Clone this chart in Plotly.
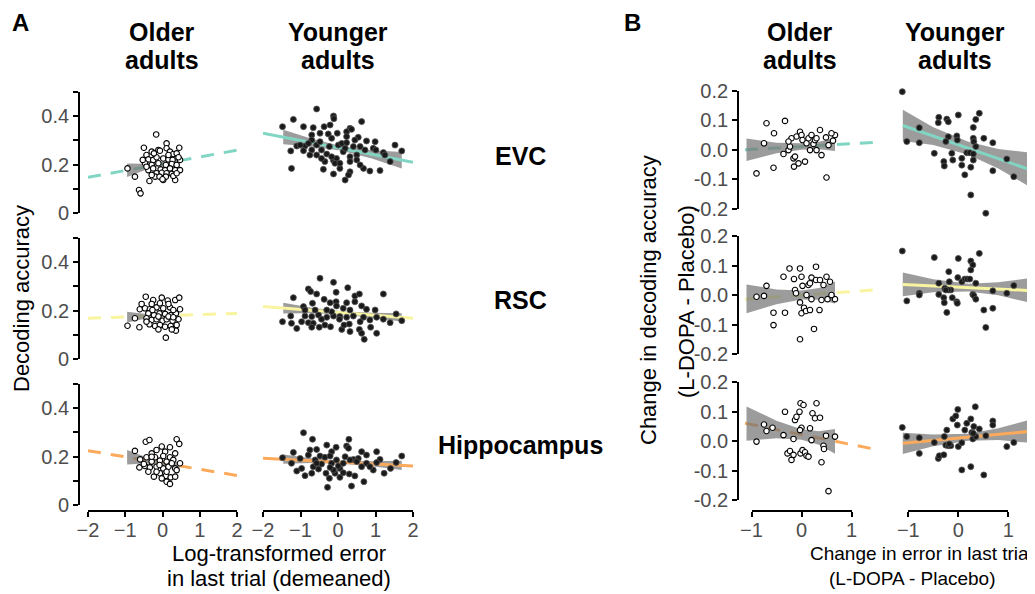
import plotly.graph_objects as go

W, H = 1035, 594
OFF = 8  # the page body adds an 8px margin around the figure


def fx(px):
    return (px - OFF) / W


def fy(py):
    return 1 - (py - OFF) / H

# ---------------- DATA ----------------
rows = ["EVC", "RSC", "Hippocampus"]
colors = {"EVC": "#80D6C3", "RSC": "#F8F4A0", "Hippocampus": "#FBAA5C"}

# ---- Panel A : older adults ----
A_EVC_old_x = [-0.17, -0.50, -0.94, -0.74, -0.63, -0.59, -0.35, 0.45, 0.11, 0.34, 0.02, -0.29, -0.11, -0.07, 0.11, 0.20,
               0.29, 0.38, -0.43, -0.38, -0.25, -0.16, 0.02, 0.16, 0.27, 0.47, -0.47, -0.29, -0.11, 0.09, 0.25, 0.38,
               -0.38, -0.25, -0.05, 0.07, 0.20, 0.34, 0.47, -0.16, -0.02, 0.11, 0.25, -0.20, -0.08, 0.09, 0.29, 0.38,
               0.00, -0.29, -0.43, 0.16, -0.23, 0.43, -0.53]
A_EVC_old_y = [0.324, 0.269, 0.184, 0.150, 0.095, 0.081, 0.132, 0.269, 0.287, 0.136, 0.136, 0.253, 0.260, 0.257, 0.267, 0.253,
               0.243, 0.246, 0.239, 0.221, 0.219, 0.230, 0.225, 0.221, 0.219, 0.219, 0.205, 0.198, 0.205, 0.198, 0.202, 0.198,
               0.177, 0.184, 0.180, 0.177, 0.184, 0.177, 0.177, 0.164, 0.166, 0.164, 0.161, 0.150, 0.150, 0.150, 0.153, 0.164,
               0.139, 0.157, 0.191, 0.239, 0.246, 0.230, 0.219]
A_RSC_old_x = [-0.94, -0.62, -0.45, -0.25, -0.02, 0.14, 0.34, 0.45, 0.09, 0.36, -0.61, -0.47, -0.34, -0.16, 0.02, 0.20,
               0.47, -0.38, -0.23, -0.08, 0.07, 0.22, 0.36, -0.43, -0.29, -0.16, 0.00, 0.11, 0.27, 0.43, -0.35, -0.20,
               -0.07, 0.07, 0.22, 0.38, -0.11, 0.25, -0.74, -0.56, -0.29, -0.07, 0.16, 0.29, -0.27, -0.11, 0.16, -0.43, 0.29]
A_RSC_old_y = [0.137, 0.131, 0.257, 0.243, 0.253, 0.241, 0.243, 0.253, 0.088, 0.117, 0.205, 0.209, 0.205, 0.213, 0.209, 0.213,
               0.205, 0.188, 0.181, 0.188, 0.186, 0.181, 0.188, 0.168, 0.161, 0.164, 0.158, 0.164, 0.158, 0.164, 0.143, 0.136,
               0.140, 0.133, 0.136, 0.140, 0.122, 0.122, 0.168, 0.227, 0.227, 0.230, 0.227, 0.202, 0.202, 0.175, 0.175, 0.154, 0.172]
A_Hip_old_x = [-0.74, -0.45, -0.35, 0.38, 0.45, 0.20, -0.02, -0.16, 0.07, 0.34, -0.29, -0.43, -0.20, 0.02, 0.20, -0.60,
               -0.29, -0.07, 0.11, 0.29, 0.47, -0.62, -0.47, -0.34, -0.16, 0.02, 0.16, 0.34, -0.38, -0.23, -0.07, 0.09,
               0.22, 0.38, 0.11, 0.20, -0.16, -0.29, -0.08, 0.25, -0.50, 0.11, 0.34, -0.02]
A_Hip_old_y = [0.223, 0.261, 0.268, 0.271, 0.252, 0.238, 0.241, 0.227, 0.220, 0.213, 0.213, 0.197, 0.197, 0.202, 0.197, 0.188,
               0.179, 0.183, 0.179, 0.186, 0.172, 0.155, 0.161, 0.155, 0.158, 0.151, 0.158, 0.151, 0.137, 0.117, 0.131, 0.120,
               0.114, 0.144, 0.096, 0.087, 0.137, 0.199, 0.165, 0.172, 0.169, 0.137, 0.117, 0.110]

# ---- Panel A : younger adults ----
A_EVC_young_x = [-1.48, -1.19, -0.57, -0.12, -0.11, 0.63, -0.92, -0.66, -0.37, -0.21, 0.32, 0.23, 0.36, -0.48, -0.70, -0.26,
                 -0.02, -0.17, 0.23, 0.54, 0.76, 0.99, 1.52, 1.70, 1.21, 1.39, 1.12, 0.85, 0.68, 0.32, 0.19, 0.28,
                 0.05, -0.12, -0.39, -0.35, -0.12, -1.24, -1.26, -1.10, -0.88, -0.70, -0.44, -0.57, -0.30, -0.04, 0.14, 0.32,
                 0.50, 0.59, 0.72, 0.94, 1.01, 1.25, -0.70, -0.79, -1.01, 0.01, 0.10, 0.19, 0.41, -0.08, -0.17, 0.32,
                 0.50, 0.59, 0.05, -0.44, -0.23, -0.57, -0.75, -0.92, -0.48, 0.23, 0.45]
A_EVC_young_y = [0.356, 0.386, 0.429, 0.400, 0.389, 0.377, 0.356, 0.352, 0.356, 0.363, 0.349, 0.335, 0.345, 0.329, 0.322, 0.326,
                 0.329, 0.308, 0.315, 0.312, 0.297, 0.294, 0.280, 0.256, 0.249, 0.212, 0.175, 0.173, 0.184, 0.170, 0.136, 0.157,
                 0.184, 0.161, 0.180, 0.212, 0.216, 0.184, 0.256, 0.276, 0.276, 0.260, 0.260, 0.239, 0.243, 0.225, 0.253, 0.232,
                 0.239, 0.274, 0.260, 0.267, 0.260, 0.239, 0.301, 0.287, 0.280, 0.280, 0.287, 0.267, 0.274, 0.205, 0.232, 0.212,
                 0.219, 0.198, 0.205, 0.225, 0.274, 0.280, 0.239, 0.257, 0.294, 0.290, 0.301]
A_RSC_young_x = [-0.48, -0.12, 0.26, 1.21, -1.19, -0.79, -0.73, -0.57, -0.05, 0.45, 0.57, -0.68, -0.37, -0.21, -0.05, 0.23,
                 0.45, 0.63, 0.76, 0.99, -0.92, -0.88, -0.70, -0.52, -0.30, -0.12, 0.05, 0.23, 0.41, 0.68, 1.03, 1.21,
                 1.55, 1.70, -1.48, -1.26, -1.24, -1.10, -0.97, -0.79, -0.66, -0.50, -0.35, -0.20, 0.10, 0.16, 0.30, 0.57,
                 0.63, 0.70, 0.87, 1.03, 1.39, 0.04, -0.44, -0.17, 0.14, 0.32, -0.30, -0.61, -0.04, 0.59, 0.85, -0.70,
                 0.32, -0.88]
A_RSC_young_y = [0.333, 0.316, 0.294, 0.268, 0.253, 0.289, 0.278, 0.268, 0.275, 0.260, 0.268, 0.230, 0.246, 0.232, 0.236, 0.232,
                 0.236, 0.219, 0.205, 0.202, 0.216, 0.177, 0.175, 0.181, 0.172, 0.177, 0.175, 0.172, 0.177, 0.172, 0.172, 0.164,
                 0.186, 0.158, 0.154, 0.177, 0.147, 0.126, 0.154, 0.150, 0.147, 0.131, 0.140, 0.133, 0.122, 0.140, 0.144, 0.122,
                 0.106, 0.081, 0.131, 0.106, 0.150, 0.164, 0.164, 0.195, 0.209, 0.202, 0.202, 0.202, 0.219, 0.154, 0.161, 0.131,
                 0.113, 0.202]
A_Hip_young_x = [-0.92, -0.68, 0.29, -0.30, -0.05, 0.23, 0.28, -1.19, -0.75, -0.57, -0.17, 0.63, 0.76, 1.03, 1.70, -1.48,
                 -1.24, -0.79, -0.48, -0.35, -0.21, 0.19, 0.41, 0.54, 1.12, 1.03, 1.55, -1.10, -0.97, -0.88, -0.70, -0.52,
                 -0.32, -0.23, -0.28, -0.08, 0.05, 0.14, 0.30, 0.36, 0.45, 0.69, 0.94, 1.23, 1.40, -0.12, 0.01, 0.32,
                 0.50, 0.76, 0.85, -0.61, -0.44, -0.17, -0.04, 0.14, -0.66, -1.01, 0.63, -0.21, -0.57, 0.05]
A_Hip_young_y = [0.298, 0.271, 0.271, 0.247, 0.238, 0.243, 0.234, 0.217, 0.227, 0.229, 0.220, 0.220, 0.206, 0.220, 0.202, 0.195,
                 0.172, 0.206, 0.202, 0.197, 0.202, 0.199, 0.188, 0.192, 0.188, 0.175, 0.175, 0.140, 0.151, 0.121, 0.131, 0.148,
                 0.131, 0.110, 0.073, 0.131, 0.151, 0.133, 0.128, 0.078, 0.120, 0.096, 0.144, 0.131, 0.151, 0.144, 0.161, 0.186,
                 0.179, 0.172, 0.158, 0.186, 0.169, 0.172, 0.186, 0.172, 0.158, 0.192, 0.158, 0.155, 0.172, 0.114]

# ---- Panel A : fitted lines (end points) and confidence bands ----
A_old_line_x = [-2, 2]
A_EVC_old_line_y = [0.147, 0.259]
A_RSC_old_line_y = [0.168, 0.188]
A_Hip_old_line_y = [0.224, 0.122]
A_young_line_x = [-2, 2]
A_EVC_young_line_y = [0.329, 0.209]
A_RSC_young_line_y = [0.216, 0.168]
A_Hip_young_line_y = [0.193, 0.161]

A_old_band_x = [-0.95, -0.5, -0.15, 0.15, 0.45]
A_EVC_old_band_lo = [0.148, 0.175, 0.191, 0.198, 0.200]
A_EVC_old_band_hi = [0.204, 0.203, 0.207, 0.216, 0.232]
A_RSC_old_band_lo = [0.151, 0.165, 0.171, 0.172, 0.168]
A_RSC_old_band_hi = [0.195, 0.187, 0.183, 0.186, 0.192]
A_Hip_old_band_lo = [0.167, 0.171, 0.169, 0.160, 0.145]
A_Hip_old_band_hi = [0.227, 0.201, 0.185, 0.178, 0.177]
A_young_band_x = [-1.46, -0.7, 0.1, 0.9, 1.70]
A_EVC_young_band_lo = [0.283, 0.274, 0.257, 0.225, 0.184]
A_EVC_young_band_hi = [0.343, 0.306, 0.275, 0.259, 0.252]
A_RSC_young_band_lo = [0.188, 0.189, 0.185, 0.171, 0.155]
A_RSC_young_band_hi = [0.232, 0.211, 0.197, 0.191, 0.189]
A_Hip_young_band_lo = [0.170, 0.173, 0.170, 0.160, 0.144]
A_Hip_young_band_hi = [0.208, 0.193, 0.182, 0.180, 0.182]

# ---- Panel B : older adults ----
B_EVC_old_x = [-0.90, -0.75, -0.70, -0.56, -0.55, -0.33, -0.36, -0.26, -0.23, -0.16, -0.15, -0.13, -0.10, -0.03, 0.00, 0.02,
               0.07, 0.10, 0.14, 0.17, 0.20, 0.24, 0.30, 0.37, 0.40, 0.49, 0.50, 0.54, -0.06, -0.20, -0.26, 0.27, 0.30,
               0.67, 0.63, 0.60]
B_EVC_old_y = [-0.081, 0.021, 0.089, -0.062, 0.055, 0.097, -0.015, -0.002, 0.010, -0.030, -0.058, -0.024, 0.044, 0.060, 0.049,
               0.032, -0.041, 0.021, 0.038, -0.002, 0.049, 0.019, -0.002, 0.066, -0.019, 0.041, -0.095, 0.015, -0.047, 0.038,
               0.027, 0.032, 0.038, 0.049, 0.030, 0.055]
B_RSC_old_x = [-0.90, -0.75, -0.70, -0.56, -0.56, -0.36, -0.33, -0.24, -0.15, -0.13, -0.11, -0.03, 0.00, -0.03, -0.03, 0.00,
               0.02, 0.05, 0.09, 0.14, 0.17, 0.20, 0.20, 0.25, 0.29, 0.29, 0.36, 0.40, 0.50, 0.52, 0.17, 0.10, 0.37, 0.44,
               0.67, 0.60, 0.57]
B_RSC_old_y = [-0.006, -0.003, 0.031, -0.060, -0.102, 0.062, -0.060, 0.090, 0.054, 0.017, 0.006, 0.090, 0.062, -0.025, -0.150,
               -0.062, 0.031, -0.043, -0.054, 0.034, -0.051, -0.014, 0.059, -0.115, 0.096, 0.051, -0.051, -0.017, 0.062, -0.014,
               0.040, 0.000, 0.051, 0.034, -0.014, 0.000, 0.045]
B_Hip_old_x = [-0.90, -0.75, -0.70, -0.58, -0.36, -0.33, -0.28, -0.23, -0.20, -0.16, -0.13, -0.10, -0.04, -0.02, 0.04, 0.00,
               -0.02, 0.02, 0.07, 0.10, 0.14, 0.17, 0.20, 0.22, 0.27, 0.30, 0.37, 0.44, 0.45, 0.40, 0.49, 0.54, -0.03, -0.16,
               0.67]
B_Hip_old_y = [-0.002, 0.056, 0.034, 0.045, 0.020, 0.099, -0.042, -0.034, -0.064, -0.047, 0.071, 0.082, 0.099, 0.128, 0.122,
               0.045, -0.042, -0.031, -0.038, -0.050, -0.053, 0.043, 0.003, 0.094, 0.077, 0.128, 0.079, -0.016, -0.027, -0.072,
               0.018, -0.170, 0.037, 0.007, 0.015]

# ---- Panel B : younger adults ----
B_EVC_young_x = [-1.12, -1.03, -0.78, -0.78, -0.48, -0.39, -0.40, -0.23, -0.20, 0.00, 0.35, 0.42, 0.30, -0.20, -0.03, -0.02,
                 -0.25, -0.13, -0.11, -0.29, -0.28, 0.07, 0.17, 0.23, 0.30, 0.31, 0.35, 0.30, 0.30, 0.07, 0.25, 0.13,
                 0.51, 0.69, 0.69, 0.97, 1.11, 0.25, 0.55, 1.45, 1.52]
B_EVC_young_y = [0.196, 0.027, 0.074, 0.023, -0.013, 0.109, 0.091, 0.103, 0.094, 0.117, 0.102, 0.123, 0.075, 0.043, 0.046,
                 0.032, 0.027, -0.013, -0.036, -0.041, -0.056, -0.030, -0.011, -0.011, 0.038, 0.027, 0.010, -0.015, -0.036,
                 -0.053, -0.060, -0.086, 0.038, 0.023, -0.072, -0.032, -0.092, -0.154, -0.216, 0.002, -0.083]
B_RSC_young_x = [-1.12, -1.03, -0.78, -0.78, -0.48, -0.39, -0.29, -0.28, -0.23, -0.19, -0.18, -0.15, -0.12, -0.03, -0.02,
                 0.00, -0.01, 0.07, 0.13, 0.18, 0.25, 0.29, 0.25, 0.23, 0.35, 0.29, 0.31, 0.35, 0.42, 0.51, 0.55, 0.69,
                 0.69, 0.97, 1.11, 1.45, 1.51, -0.27, -0.20, -0.25, -0.39]
B_RSC_young_y = [0.149, -0.020, 0.006, 0.000, 0.127, 0.002, -0.009, -0.026, -0.059, 0.079, 0.045, 0.017, -0.009, -0.023, -0.028,
                 0.124, 0.059, 0.045, 0.054, 0.054, 0.115, 0.102, 0.085, 0.054, 0.040, 0.002, -0.002, -0.014, 0.141, -0.051,
                 -0.110, 0.014, -0.045, 0.006, 0.032, 0.090, -0.006, 0.023, 0.017, 0.017, 0.040]
B_Hip_young_x = [-1.12, -1.03, -0.78, -0.78, -0.48, -0.40, -0.38, -0.29, -0.28, -0.23, -0.25, -0.20, -0.15, -0.18, -0.11,
                 -0.05, -0.02, -0.01, 0.00, 0.07, 0.07, 0.13, 0.17, 0.25, 0.25, 0.27, 0.29, 0.31, 0.34, 0.35, 0.42, 0.51,
                 0.55, 0.69, 0.69, 0.97, 1.11, 1.45, 1.51, 0.30]
B_Hip_young_y = [0.046, 0.015, 0.011, -0.042, -0.005, -0.059, -0.050, -0.047, 0.015, 0.037, -0.014, -0.016, -0.016, -0.010,
                 0.075, 0.085, 0.054, 0.107, -0.019, -0.006, -0.098, 0.037, 0.060, 0.075, -0.087, 0.029, 0.007, 0.049, 0.116,
                 0.015, 0.041, -0.115, 0.018, 0.068, 0.054, -0.019, -0.005, 0.043, 0.060, 0.026]

# ---- Panel B : fitted lines (end points) and confidence bands ----
B_old_line_x = [-1.13, 1.53]
B_EVC_old_line_y = [-0.001, 0.025]
B_RSC_old_line_y = [-0.014, 0.018]
B_Hip_old_line_y = [0.060, -0.030]
B_young_line_x = [-1.11, 1.7]
B_EVC_young_line_y = [0.0815, -0.084]
B_RSC_young_line_y = [0.036, 0.013]
B_Hip_young_line_y = [-0.008, 0.037]

B_old_band_x = [-1.1, -0.5, 0.0, 0.35, 0.67]
B_EVC_old_band_lo = [-0.039, -0.013, -0.001, 0.0005, -0.005]
B_EVC_old_band_hi = [0.037, 0.023, 0.021, 0.0265, 0.039]
B_RSC_old_band_lo = [-0.062, -0.031, -0.015, -0.016, -0.029]
B_RSC_old_band_hi = [0.036, 0.019, 0.015, 0.024, 0.045]
B_Hip_old_band_lo = [0.001, 0.009, 0.004, -0.013, -0.043]
B_Hip_old_band_hi = [0.117, 0.069, 0.040, 0.033, 0.041]
B_young_band_x = [-1.11, -0.5, 0.2, 0.8, 1.7]
B_EVC_young_band_lo = [0.0285, 0.0155, -0.0178, -0.0642, -0.1530]
B_EVC_young_band_hi = [0.1345, 0.0755, 0.0262, 0.0018, -0.0150]
B_RSC_young_band_lo = [-0.004, 0.009, 0.012, -0.001, -0.037]
B_RSC_young_band_hi = [0.076, 0.053, 0.038, 0.043, 0.063]
B_Hip_young_band_lo = [-0.044, -0.018, 0.001, 0.003, -0.010]
B_Hip_young_band_hi = [0.028, 0.022, 0.025, 0.043, 0.084]

A_xticks = [-2, -1, 0, 1, 2]
A_yticks = [0, 0.1, 0.2, 0.3, 0.4, 0.5]
A_yticktext = ["0", "", "0.2", "", "0.4", ""]
B_xticks = [-1, 0, 1]
B_yticks = [-0.2, -0.1, 0.0, 0.1, 0.2]
B_yticktext = ["-0.2", "-0.1", "0.0", "0.1", "0.2"]

# ---------------- LAYOUT GEOMETRY (screen pixels) ----------------
A_row_zero_px = [213, 359, 505]       # pixel row of y = 0
A_px_per_unit = 242.5
A_col_px = [(88, 237), (263, 413)]
B_row_zero_px = [149.5, 295, 441]
B_px_per_unit = 295
B_yr = 0.23
B_old_dom = (745, 878)
B_old_rng = [(745 - 801.5) / 50, (878 - 801.5) / 50]
B_young_dom = (896, 1043)
B_young_rng = [(896 - 958.3) / 50, (1043 - 958.3) / 50]

FONT = "Liberation Sans, Arial, sans-serif"
TICKFONT = dict(family=FONT, size=20, color="#4D4D4D")
BAND = "rgba(118,118,118,0.72)"
DASH = "13px,10px"

fig = go.Figure()
layout_axes = {}

A_data = {
    "EVC": (A_EVC_old_x, A_EVC_old_y, A_EVC_old_line_y, A_EVC_old_band_lo, A_EVC_old_band_hi,
            A_EVC_young_x, A_EVC_young_y, A_EVC_young_line_y, A_EVC_young_band_lo, A_EVC_young_band_hi),
    "RSC": (A_RSC_old_x, A_RSC_old_y, A_RSC_old_line_y, A_RSC_old_band_lo, A_RSC_old_band_hi,
            A_RSC_young_x, A_RSC_young_y, A_RSC_young_line_y, A_RSC_young_band_lo, A_RSC_young_band_hi),
    "Hippocampus": (A_Hip_old_x, A_Hip_old_y, A_Hip_old_line_y, A_Hip_old_band_lo, A_Hip_old_band_hi,
                    A_Hip_young_x, A_Hip_young_y, A_Hip_young_line_y, A_Hip_young_band_lo, A_Hip_young_band_hi),
}
B_data = {
    "EVC": (B_EVC_old_x, B_EVC_old_y, B_EVC_old_line_y, B_EVC_old_band_lo, B_EVC_old_band_hi,
            B_EVC_young_x, B_EVC_young_y, B_EVC_young_line_y, B_EVC_young_band_lo, B_EVC_young_band_hi),
    "RSC": (B_RSC_old_x, B_RSC_old_y, B_RSC_old_line_y, B_RSC_old_band_lo, B_RSC_old_band_hi,
            B_RSC_young_x, B_RSC_young_y, B_RSC_young_line_y, B_RSC_young_band_lo, B_RSC_young_band_hi),
    "Hippocampus": (B_Hip_old_x, B_Hip_old_y, B_Hip_old_line_y, B_Hip_old_band_lo, B_Hip_old_band_hi,
                    B_Hip_young_x, B_Hip_young_y, B_Hip_young_line_y, B_Hip_young_band_lo, B_Hip_young_band_hi),
}

OLD_MARKER = dict(size=5.5, color="white", line=dict(color="black", width=1.1))
YOUNG_MARKER = dict(size=6, color="#1A1A1A", line=dict(color="#555555", width=0.8))


def add_band(xa, ya, bx, lo, hi):
    fig.add_trace(go.Scatter(x=list(bx) + list(bx)[::-1], y=list(lo) + list(hi)[::-1],
                             fill="toself", fillcolor=BAND, line=dict(width=0), mode="lines",
                             xaxis=xa, yaxis=ya, hoverinfo="skip", showlegend=False))


def add_line(xa, ya, lx, ly, color, dash):
    fig.add_trace(go.Scatter(x=lx, y=ly, mode="lines", line=dict(color=color, width=3, dash=dash),
                             xaxis=xa, yaxis=ya, hoverinfo="skip", showlegend=False))


def add_points(xa, ya, px, py, marker):
    fig.add_trace(go.Scatter(x=px, y=py, mode="markers", marker=marker, cliponaxis=False,
                             xaxis=xa, yaxis=ya, showlegend=False))


hidden = dict(visible=False, showgrid=False, zeroline=False, automargin=False)
shown = dict(showline=True, linecolor="black", linewidth=1.8, ticks="outside", ticklen=5, tickwidth=1.6,
             tickcolor="black", tickfont=TICKFONT, showgrid=False, zeroline=False, automargin=False)

# ---------------- PANEL A ----------------
for r, reg in enumerate(rows):
    d = A_data[reg]
    col = colors[reg]
    zero = A_row_zero_px[r]
    ydom = [fy(zero), fy(zero - 0.5 * A_px_per_unit)]
    for c in range(2):
        i = r * 2 + c + 1
        xa, ya = f"x{i}", f"y{i}"
        if c == 0:
            add_line(xa, ya, A_old_line_x, d[2], col, DASH)
            add_band(xa, ya, A_old_band_x, d[3], d[4])
            add_points(xa, ya, d[0], d[1], OLD_MARKER)
        else:
            add_band(xa, ya, A_young_band_x, d[8], d[9])
            add_line(xa, ya, A_young_line_x, d[7], col, "solid")
            add_points(xa, ya, d[5], d[6], YOUNG_MARKER)
        xdom = [fx(A_col_px[c][0]), fx(A_col_px[c][1])]
        xkey = "xaxis" if i == 1 else f"xaxis{i}"
        ykey = "yaxis" if i == 1 else f"yaxis{i}"
        if r == 2:
            layout_axes[xkey] = dict(domain=xdom, range=[-2, 2], anchor="free", position=fy(511),
                                     tickvals=A_xticks, ticklabelstandoff=-4, **shown)
        else:
            layout_axes[xkey] = dict(domain=xdom, range=[-2, 2], anchor=ya, **hidden)
        if c == 0:
            layout_axes[ykey] = dict(domain=ydom, range=[0, 0.5], anchor="free", position=fx(79),
                                     tickvals=A_yticks, ticktext=A_yticktext, **shown)
        else:
            layout_axes[ykey] = dict(domain=ydom, range=[0, 0.5], anchor=xa, **hidden)

# ---------------- PANEL B ----------------
for r, reg in enumerate(rows):
    d = B_data[reg]
    col = colors[reg]
    zero = B_row_zero_px[r]
    ydom = [fy(zero + B_yr * B_px_per_unit), fy(zero - B_yr * B_px_per_unit)]
    for c in range(2):
        i = 7 + r * 2 + c
        xa, ya = f"x{i}", f"y{i}"
        if c == 0:
            add_line(xa, ya, B_old_line_x, d[2], col, DASH)
            add_band(xa, ya, B_old_band_x, d[3], d[4])
            add_points(xa, ya, d[0], d[1], OLD_MARKER)
            dom, rng = B_old_dom, B_old_rng
        else:
            add_band(xa, ya, B_young_band_x, d[8], d[9])
            add_line(xa, ya, B_young_line_x, d[7], col, "solid")
            add_points(xa, ya, d[5], d[6], YOUNG_MARKER)
            dom, rng = B_young_dom, B_young_rng
        layout_axes[f"xaxis{i}"] = dict(domain=[fx(dom[0]), min(1.0, fx(dom[1]))], range=rng, anchor=ya, **hidden)
        layout_axes[f"yaxis{i}"] = dict(domain=ydom, range=[-B_yr, B_yr], anchor=xa, **hidden)

# capped axis lines for panel B
B_deco_x = {13: (751.5, 851.5), 14: (908.3, 1008.3)}
for k, (a, b) in B_deco_x.items():
    layout_axes[f"xaxis{k}"] = dict(domain=[fx(a), fx(b)], range=[-1, 1], anchor="free", position=fy(511),
                                    tickvals=B_xticks, ticklabelstandoff=-4, **shown)
for j, r in zip([13, 14, 15], range(3)):
    zero = B_row_zero_px[r]
    layout_axes[f"yaxis{j}"] = dict(domain=[fy(zero + 0.2 * B_px_per_unit), fy(zero - 0.2 * B_px_per_unit)],
                                    range=[-0.2, 0.2], anchor="free", position=fx(738),
                                    tickvals=B_yticks, ticktext=B_yticktext, **shown)
for xa, ya in [("x13", "y13"), ("x13", "y14"), ("x13", "y15"), ("x14", "y15")]:
    fig.add_trace(go.Scatter(x=[], y=[], mode="lines", xaxis=xa, yaxis=ya, showlegend=False, hoverinfo="skip"))

# ---------------- ANNOTATIONS ----------------
ann = []


def text(x, y, s, size, bold=False, angle=0, color="black", xanchor="center"):
    ann.append(dict(x=fx(x), y=fy(y), xref="paper", yref="paper", text=(f"<b>{s}</b>" if bold else s),
                    showarrow=False, textangle=angle, xanchor=xanchor, yanchor="middle",
                    font=dict(family=FONT, size=size, color=color)))


text(20, 22, "A", 24, bold=True)
text(632, 22, "B", 24, bold=True)
for cx, l1 in [(162, "Older"), (338, "Younger"), (800, "Older"), (955, "Younger")]:
    text(cx, 32, l1, 25, bold=True)
    text(cx, 60, "adults", 25, bold=True)
text(520, 156, "EVC", 25, bold=True)
text(520, 300, "RSC", 25, bold=True)
text(520, 445, "Hippocampus", 25, bold=True)
text(22, 299, "Decoding accuracy", 22, angle=-90)
text(279, 553, "Log-transformed error", 22)
text(279, 578, "in last trial (demeaned)", 22)
text(648, 300, "Change in decoding accuracy", 22, angle=-90)
text(686, 302, "(L-DOPA - Placebo)", 22, angle=-90)
text(921, 553, "Change in error in last trial", 19)
text(912, 578, "(L-DOPA - Placebo)", 19)

fig.update_layout(
    template="none",
    width=W, height=H,
    margin=dict(l=0, r=0, t=0, b=0, pad=0),
    autosize=False,
    paper_bgcolor="white", plot_bgcolor="rgba(0,0,0,0)",
    font=dict(family=FONT),
    showlegend=False,
    annotations=ann,
    **layout_axes,
)

fig.write_html("out.html")
